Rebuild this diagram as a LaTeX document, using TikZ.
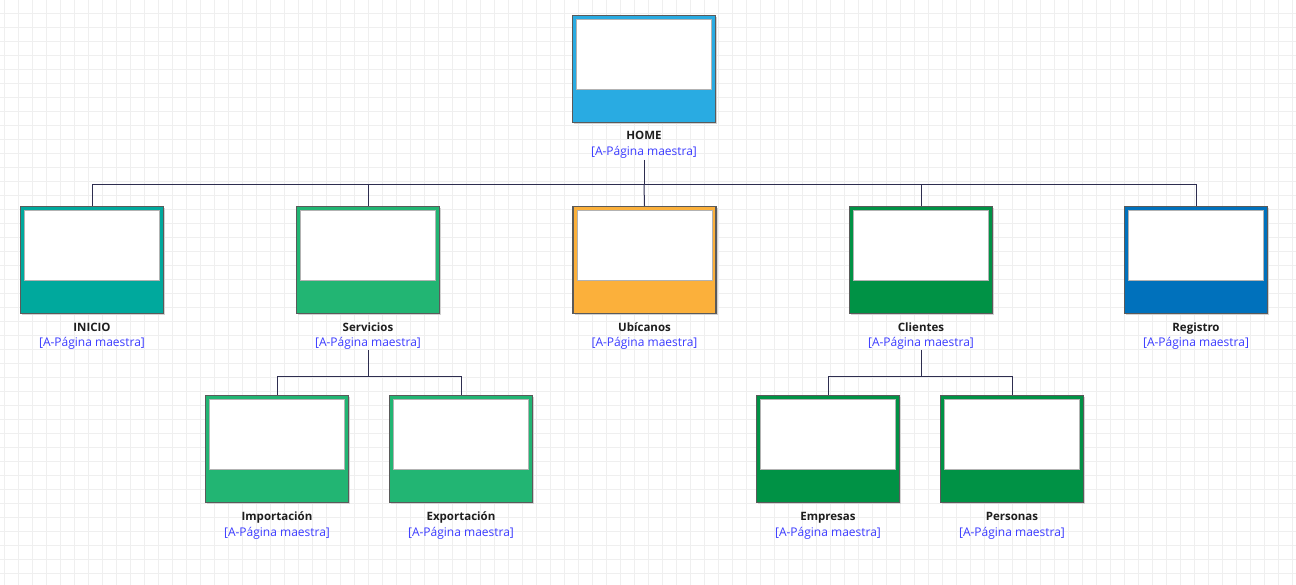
\documentclass[tikz,border=0pt]{standalone}
\usepackage{fontspec}
\setmainfont{Open Sans}
\usetikzlibrary{calc}
\definecolor{gridc}{HTML}{EFEFEF}
\definecolor{connc}{HTML}{2E2E50}
\definecolor{subc}{HTML}{3B3BFF}
\definecolor{titc}{HTML}{1E1E1E}
\definecolor{bordc}{HTML}{5A5A5A}
\definecolor{cHome}{HTML}{29ABE2}
\definecolor{cInicio}{HTML}{00A99D}
\definecolor{cServ}{HTML}{22B573}
\definecolor{cUbic}{HTML}{FBB03B}
\definecolor{cCli}{HTML}{009245}
\definecolor{cReg}{HTML}{0071BC}
\tikzset{
  pagebox/.style={draw=bordc, line width=1.1pt, minimum width=143pt, minimum height=107pt, inner sep=0pt, anchor=north},
  shadowbox/.style={fill=black!18, minimum width=143pt, minimum height=107pt, inner sep=0pt, anchor=north, draw=none},
  screen/.style={fill=white, draw=black!30, line width=0.6pt},
  ttl/.style={font=\fontsize{11.5}{13}\selectfont\bfseries, text=titc, inner sep=0pt, anchor=base},
  sub/.style={font=\fontsize{12}{14}\selectfont, text=subc, inner sep=0pt, anchor=base},
  conn/.style={draw=connc, line width=1pt},
}
\newcommand{\pgbox}[5]{%
  \node[shadowbox] at (#2+1.5,#3+1.5) {};
  \node[pagebox, fill=#4] (#1) at (#2,#3) {};
  \path[screen] ($(#1.north west)+(4.5,4.5)$) rectangle ($(#1.north east)+(-4.5,74)$);
  \node[ttl] (#1-t) at (#2,#3+125) {#5};
  \node[sub] (#1-s) at (#2,#3+141) {[A-Página maestra]};
}
\begin{document}
\begin{tikzpicture}[x=1pt,y=-1pt]
\fill[white] (0,0) rectangle (1296,585);
\useasboundingbox (0,0) rectangle (1296,585);
\foreach \i in {0,...,92} {\draw[gridc, line width=0.9pt] (4+14*\i,0) -- (4+14*\i,585);}
\foreach \j in {0,...,42} {\draw[gridc, line width=0.9pt] (0,13+14*\j) -- (1296,13+14*\j);}

\pgbox{home}{644}{15}{cHome}{HOME}
\pgbox{inicio}{92}{206}{cInicio}{INICIO}
\pgbox{serv}{368}{206}{cServ}{Servicios}
\pgbox{ubic}{644.5}{206}{cUbic}{Ubícanos}
\pgbox{cli}{921}{206}{cCli}{Clientes}
\pgbox{reg}{1196}{206}{cReg}{Registro}
\pgbox{imp}{277}{395}{cServ}{Importación}
\pgbox{exp}{461}{395}{cServ}{Exportación}
\pgbox{emp}{828}{395}{cCli}{Empresas}
\pgbox{per}{1012}{395}{cCli}{Personas}

\coordinate (hs) at (644,160);
\coordinate (hbus) at (644,185);
\coordinate (ss) at (368,350);
\coordinate (sbus) at (368,376);
\coordinate (cs) at (921,350);
\coordinate (cbus) at (921,376);

\draw[conn] (hs) -- (hbus);
\draw[conn] (hbus) -| (inicio.north);
\draw[conn] (hbus) -| (serv.north);
\draw[conn] (hbus) -- (ubic.north);
\draw[conn] (hbus) -| (cli.north);
\draw[conn] (hbus) -| (reg.north);
\draw[conn] (ss) -- (sbus);
\draw[conn] (sbus) -| (imp.north);
\draw[conn] (sbus) -| (exp.north);
\draw[conn] (cs) -- (cbus);
\draw[conn] (cbus) -| (emp.north);
\draw[conn] (cbus) -| (per.north);
\end{tikzpicture}
\end{document}
